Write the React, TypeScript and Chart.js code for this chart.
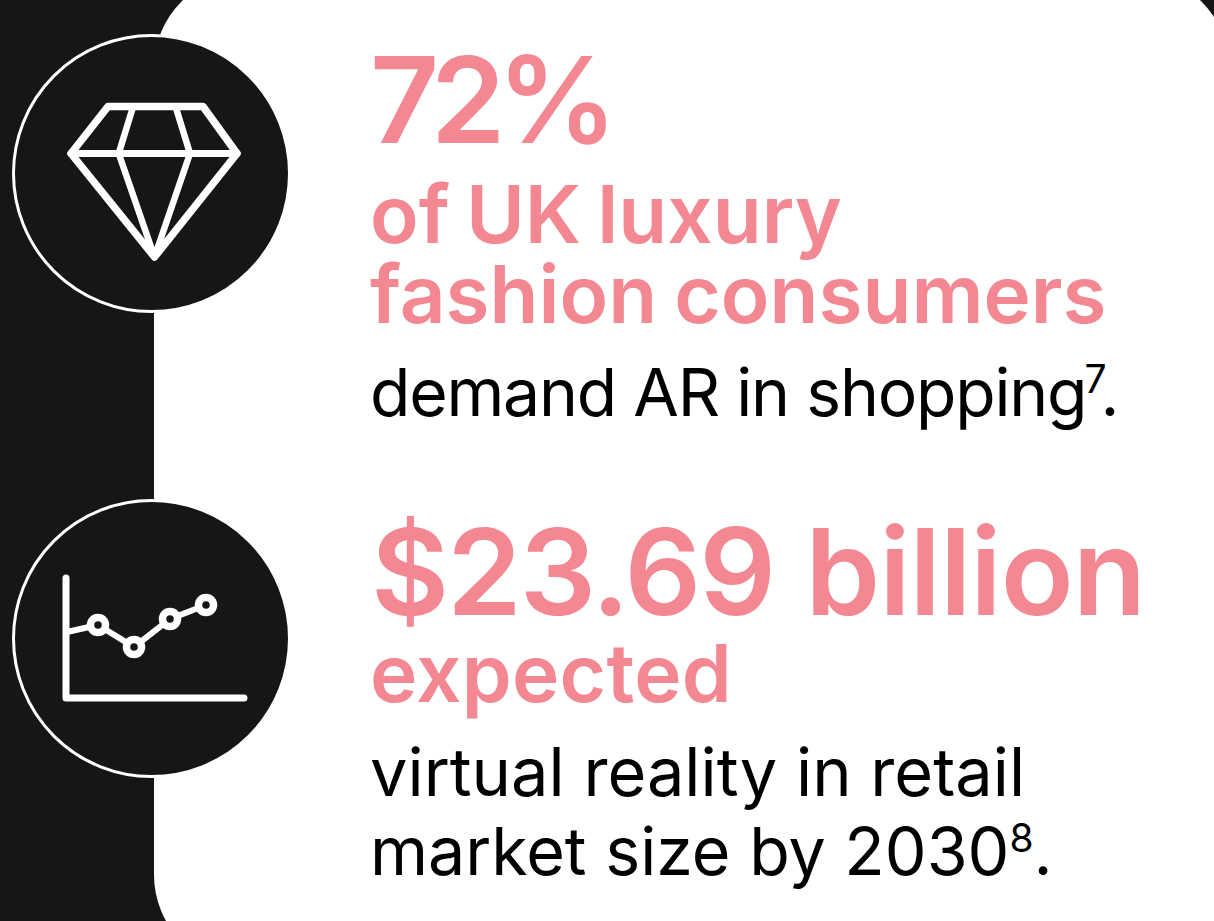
import React, { useEffect, useRef } from "react";
import { Chart, registerables } from "chart.js";

Chart.register(...registerables);

// Icon line chart (x along the axis, y above the axis)
const lineX = [1, 32, 68, 104, 140];
const lineY = [66, 73, 51, 79, 93];
const pointSizes = [0, 7.5, 7.5, 7.5, 7.5];
const xRange = [0, 178];
const yRange = [0, 120];

const INK = "#161616";
const PINK = "#F38893";
const FONT = "Inter, 'Noto Sans', sans-serif";

const roundAxes = {
  id: "roundAxes",
  beforeDatasetsDraw(chart: any) {
    const { left, right, top, bottom } = chart.chartArea;
    const c = chart.ctx;
    c.save();
    c.strokeStyle = "#fff";
    c.lineWidth = 7;
    c.lineCap = "round";
    c.lineJoin = "round";
    c.beginPath();
    c.moveTo(left, top);
    c.lineTo(left, bottom);
    c.lineTo(right, bottom);
    c.stroke();
    c.restore();
  },
};

function T({ b, s, w, c, children, ls = 0, ws = 0, x = 370 }: any) {
  return (
    <div
      style={{
        position: "absolute",
        left: x,
        top: b - 0.864 * s,
        fontFamily: FONT,
        fontSize: s,
        fontWeight: w,
        color: c,
        lineHeight: 1,
        whiteSpace: "nowrap",
        letterSpacing: ls,
        wordSpacing: ws,
      }}
    >
      {children}
    </div>
  );
}

const Sup = ({ children, ml = 0, mr = 0 }: any) => (
  <span style={{ fontSize: 39, verticalAlign: 23, lineHeight: 0, marginLeft: ml, marginRight: mr, letterSpacing: 0 }}>{children}</span>
);

export default function App() {
  const ref = useRef<HTMLCanvasElement>(null);
  useEffect(() => {
    const chart = new Chart(ref.current!, {
      type: "line",
      data: {
        datasets: [
          {
            data: lineX.map((x, i) => ({ x, y: lineY[i] })),
            borderColor: "#fff",
            borderWidth: 6,
            pointRadius: pointSizes,
            pointBorderWidth: 7.5,
            pointBorderColor: "#fff",
            pointBackgroundColor: INK,
            tension: 0,
            clip: false,
          },
        ],
      },
      options: {
        animation: false,
        responsive: false,
        events: [],
        layout: { padding: { left: 26, top: 28, right: 36, bottom: 32 } },
        plugins: { legend: { display: false }, tooltip: { enabled: false } },
        scales: {
          x: { type: "linear", display: false, min: xRange[0], max: xRange[1] },
          y: { type: "linear", display: false, min: yRange[0], max: yRange[1] },
        },
      },
      plugins: [roundAxes],
    } as any);
    return () => chart.destroy();
  }, []);

  const disc = (cy: number) => (
    <div
      style={{
        position: "absolute",
        left: 12,
        top: cy - 139,
        width: 279,
        height: 279,
        boxSizing: "border-box",
        borderRadius: "50%",
        background: INK,
        border: "3px solid #fff",
      }}
    />
  );

  return (
    <div style={{ position: "fixed", left: 0, top: 0, width: 1214, height: 921, overflow: "hidden", background: INK }}>
      <div
        style={{
          position: "absolute",
          left: 154,
          top: -26,
          width: 1075,
          height: 995,
          borderRadius: 94,
          background: "#fff",
        }}
      />
      {disc(173)}
      {disc(638)}
      <svg width={1214} height={921} style={{ position: "absolute", left: 0, top: 0 }}>
        <g fill="none" stroke="#fff" strokeLinejoin="round" strokeLinecap="round">
          <path d="M108 106.5H203L237 153.5L154.5 257L71 153.5Z" strokeWidth={7.5} />
          <path d="M71 153.5H237" strokeWidth={7} />
          <path d="M133 107L118.7 153.5L154.5 257L190 153.5L175.7 107" strokeWidth={6.5} />
        </g>
      </svg>
      <canvas ref={ref} width={240} height={180} style={{ position: "absolute", left: 40, top: 550, width: 240, height: 180 }} />
      <T b={144} s={120} w={600} c={PINK} ls={-8.5}>72%</T>
      <T b={242.7} s={80} w={600} c={PINK} ws={-4}>of UK luxury</T>
      <T b={323.3} s={80} w={600} c={PINK} ws={-3}>fashion consumers</T>
      <T b={416} s={66} w={400} c="#000" ls={-1.2}>demand AR in shopping<Sup ml={-2} mr={-6}>7</Sup>.</T>
      <T b={616} s={120} w={600} c={PINK} x={371}>
        <span style={{ letterSpacing: -2 }}>$23.69 </span>
        <span style={{ letterSpacing: -1, marginLeft: 3 }}>billion</span>
      </T>
      <T b={701.7} s={80} w={600} c={PINK} ls={0.3}>expected</T>
      <T b={797} s={66.7} w={400} c="#000">virtual reality in retail</T>
      <T b={875} s={66.3} w={400} c="#000">market size by 2030<Sup>8</Sup>.</T>
    </div>
  );
}
